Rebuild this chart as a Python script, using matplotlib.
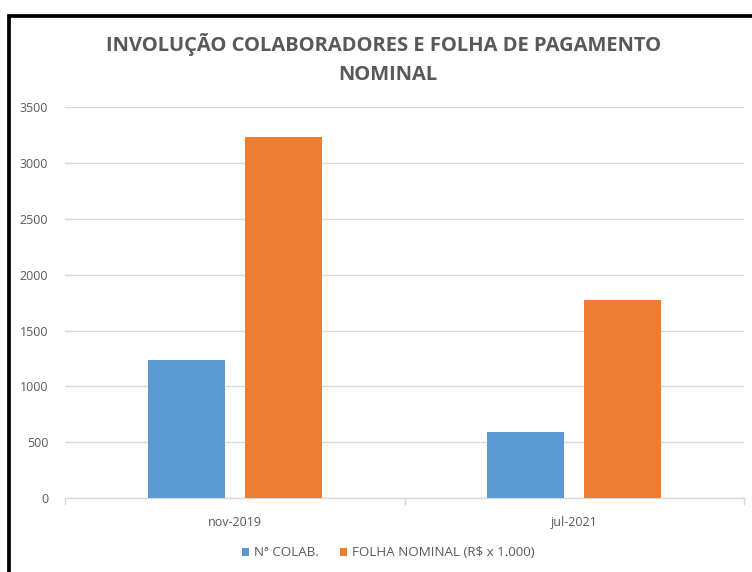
import numpy as np
import matplotlib
matplotlib.use('Agg')
import matplotlib.pyplot as plt
from matplotlib.patches import Rectangle

# chart data
categories = ['nov-2019', 'jul-2021']
colab = [1238, 587]
folha = [3235, 1770]
series_names = ['Nª COLAB.', 'FOLHA NOMINAL (R$ x 1.000)']
y_ticks = [0, 500, 1000, 1500, 2000, 2500, 3000, 3500]

plt.rcParams['font.family'] = ['Open Sans', 'DejaVu Sans']
text_color = '#595959'
grid_color = '#d9d9d9'

fig = plt.figure(figsize=(7.52, 5.72), dpi=100)
ax = fig.add_axes([65/752, 1 - 498/572, 679/752, 390.7/572])

# the bars
x = np.arange(len(categories))
w = 0.227
off = 0.143
ax.bar(x - off, colab, width=w, color='#5B9BD5', label=series_names[0], zorder=3)
ax.bar(x + off, folha, width=w, color='#ED7D31', label=series_names[1], zorder=3)

# axes setup
ax.set_xlim(-0.5, len(categories) - 0.5)
ax.set_ylim(0, 3500)
ax.set_yticks(y_ticks)
ax.set_yticklabels([str(v) for v in y_ticks], fontsize=9, color=text_color)
ax.tick_params(axis='y', length=0, pad=12)
ax.set_xticks(x)
ax.set_xticklabels(categories, fontsize=9, color=text_color)
ax.tick_params(axis='x', length=0, pad=13)
ax.set_xticks(np.arange(-0.5, len(categories)), minor=True)
ax.tick_params(axis='x', which='minor', length=5, color=grid_color, width=1)
ax.yaxis.grid(True, color=grid_color, linewidth=1, zorder=0)
ax.set_axisbelow(True)
for s in ['top', 'right', 'left']:
    ax.spines[s].set_visible(False)
ax.spines['bottom'].set_color(grid_color)
ax.spines['bottom'].set_linewidth(1)

# title
fig.text(384/752, 1 - 45/572, 'INVOLUÇÃO COLABORADORES E FOLHA DE PAGAMENTO',
         ha='center', va='center', fontsize=14.5, fontweight='bold', color=text_color)
fig.text(388/752, 1 - 75/572, 'NOMINAL',
         ha='center', va='center', fontsize=14.5, fontweight='bold', color=text_color)

# legend
fig.legend(loc='center', bbox_to_anchor=(388/752, 1 - 553/572), ncol=2, frameon=False,
           fontsize=9.6, handlelength=0.55, handleheight=0.55, handletextpad=0.35,
           columnspacing=1.6, labelcolor=text_color)

# black frame of the chart (cropped on right and bottom)
fig.add_artist(Rectangle((9/752, -0.1), 1.2, 1 - 15.5/572 + 0.1, transform=fig.transFigure,
                         fill=False, edgecolor='black', linewidth=2.7))

fig.savefig('out.png', dpi=100)
